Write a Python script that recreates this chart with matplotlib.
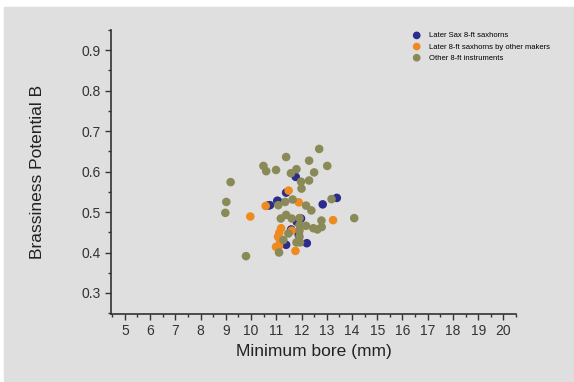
import matplotlib.pyplot as plt
from matplotlib.patches import Rectangle
from matplotlib.ticker import MultipleLocator

plt.rcParams['font.family'] = ['Liberation Sans', 'DejaVu Sans']

BG = "#dfdfdf"
BLUE = "#2b2c8c"
ORANGE = "#ee8a1f"
OLIVE = "#8a8a58"

sax_x = [11.77, 11.39, 10.75, 11.04, 11.07, 10.67, 13.40, 12.84, 11.98,
         11.81, 11.59, 11.89, 11.39, 12.21]
sax_y = [0.587, 0.548, 0.517, 0.528, 0.527, 0.516, 0.535, 0.519, 0.484,
         0.476, 0.457, 0.443, 0.419, 0.423]

other_makers_x = [11.49, 10.58, 11.89, 9.97, 13.25, 11.19, 11.12, 11.07,
                  11.15, 10.99, 11.11, 11.76, 11.61]
other_makers_y = [0.553, 0.515, 0.524, 0.489, 0.480, 0.460, 0.449, 0.439,
                  0.427, 0.414, 0.416, 0.404, 0.454]

instr_x = [12.70, 11.39, 10.49, 10.60, 10.99, 12.30, 13.02, 12.50, 11.58,
           11.80, 11.98, 12.30, 12.00, 9.19, 9.02, 8.98, 13.19, 14.09, 9.80,
           11.08, 11.35, 11.65, 12.18, 12.39, 11.18, 11.39, 11.61, 11.92,
           12.79, 11.92, 12.18, 12.47, 12.63, 12.80, 11.92, 11.48, 11.92,
           11.28, 11.94, 11.11, 11.80]
instr_y = [0.656, 0.636, 0.614, 0.601, 0.604, 0.627, 0.614, 0.598, 0.596,
           0.606, 0.575, 0.578, 0.558, 0.574, 0.525, 0.498, 0.532, 0.485,
           0.391, 0.517, 0.525, 0.531, 0.516, 0.504, 0.484, 0.493, 0.484,
           0.485, 0.479, 0.468, 0.466, 0.460, 0.457, 0.463, 0.454, 0.447,
           0.439, 0.431, 0.425, 0.400, 0.425]

x_ticks = list(range(5, 21))
y_ticks = [0.3, 0.4, 0.5, 0.6, 0.7, 0.8, 0.9]

fig = plt.figure(figsize=(5.74, 3.82), dpi=100, facecolor="white")
# grey canvas with a thin white strip at the top and left edge
fig.patches.append(Rectangle((4 / 574, 0), 1, 1 - 7 / 382,
                             transform=fig.transFigure, color=BG, zorder=-10))

ax = fig.add_axes([111 / 574, 68 / 382, (516 - 111) / 574, (314 - 30) / 382])
ax.set_facecolor(BG)

kw = dict(s=38, edgecolors="none")
ax.scatter(sax_x, sax_y, color=BLUE, label="Later Sax 8-ft saxhorns", **kw)
ax.scatter(other_makers_x, other_makers_y, color=ORANGE,
           label="Later 8-ft saxhorns by other makers", **kw)
ax.scatter(instr_x, instr_y, color=OLIVE, label="Other 8-ft instruments", **kw)

ax.set_xlim(4.45, 20.5)
ax.set_ylim(0.248, 0.95)
ax.set_xticks(x_ticks)
ax.set_yticks(y_ticks)
ax.xaxis.set_minor_locator(MultipleLocator(0.5))
ax.yaxis.set_minor_locator(MultipleLocator(0.05))
ax.tick_params(which="major", direction="out", length=4, width=1,
               labelsize=10, colors="#333333")
ax.tick_params(which="minor", direction="out", length=2, width=1,
               color="#333333")
for side in ("top", "right"):
    ax.spines[side].set_visible(False)
for side in ("left", "bottom"):
    ax.spines[side].set_color("#333333")
    ax.spines[side].set_linewidth(1.2)

ax.set_xlabel("Minimum bore (mm)", fontsize=12.5, color="#222222", labelpad=4)
ax.set_ylabel("Brassiness Potential B", fontsize=12.5, color="#222222",
              labelpad=26)

ax.legend(loc="upper left", bbox_to_anchor=(406 / 574, 1 - 29 / 382),
          bbox_transform=fig.transFigure, frameon=False, fontsize=5.5,
          handletextpad=0.6, labelspacing=0.5, markerscale=0.9,
          borderaxespad=0)

fig.savefig("out.png", dpi=100, facecolor=fig.get_facecolor())
